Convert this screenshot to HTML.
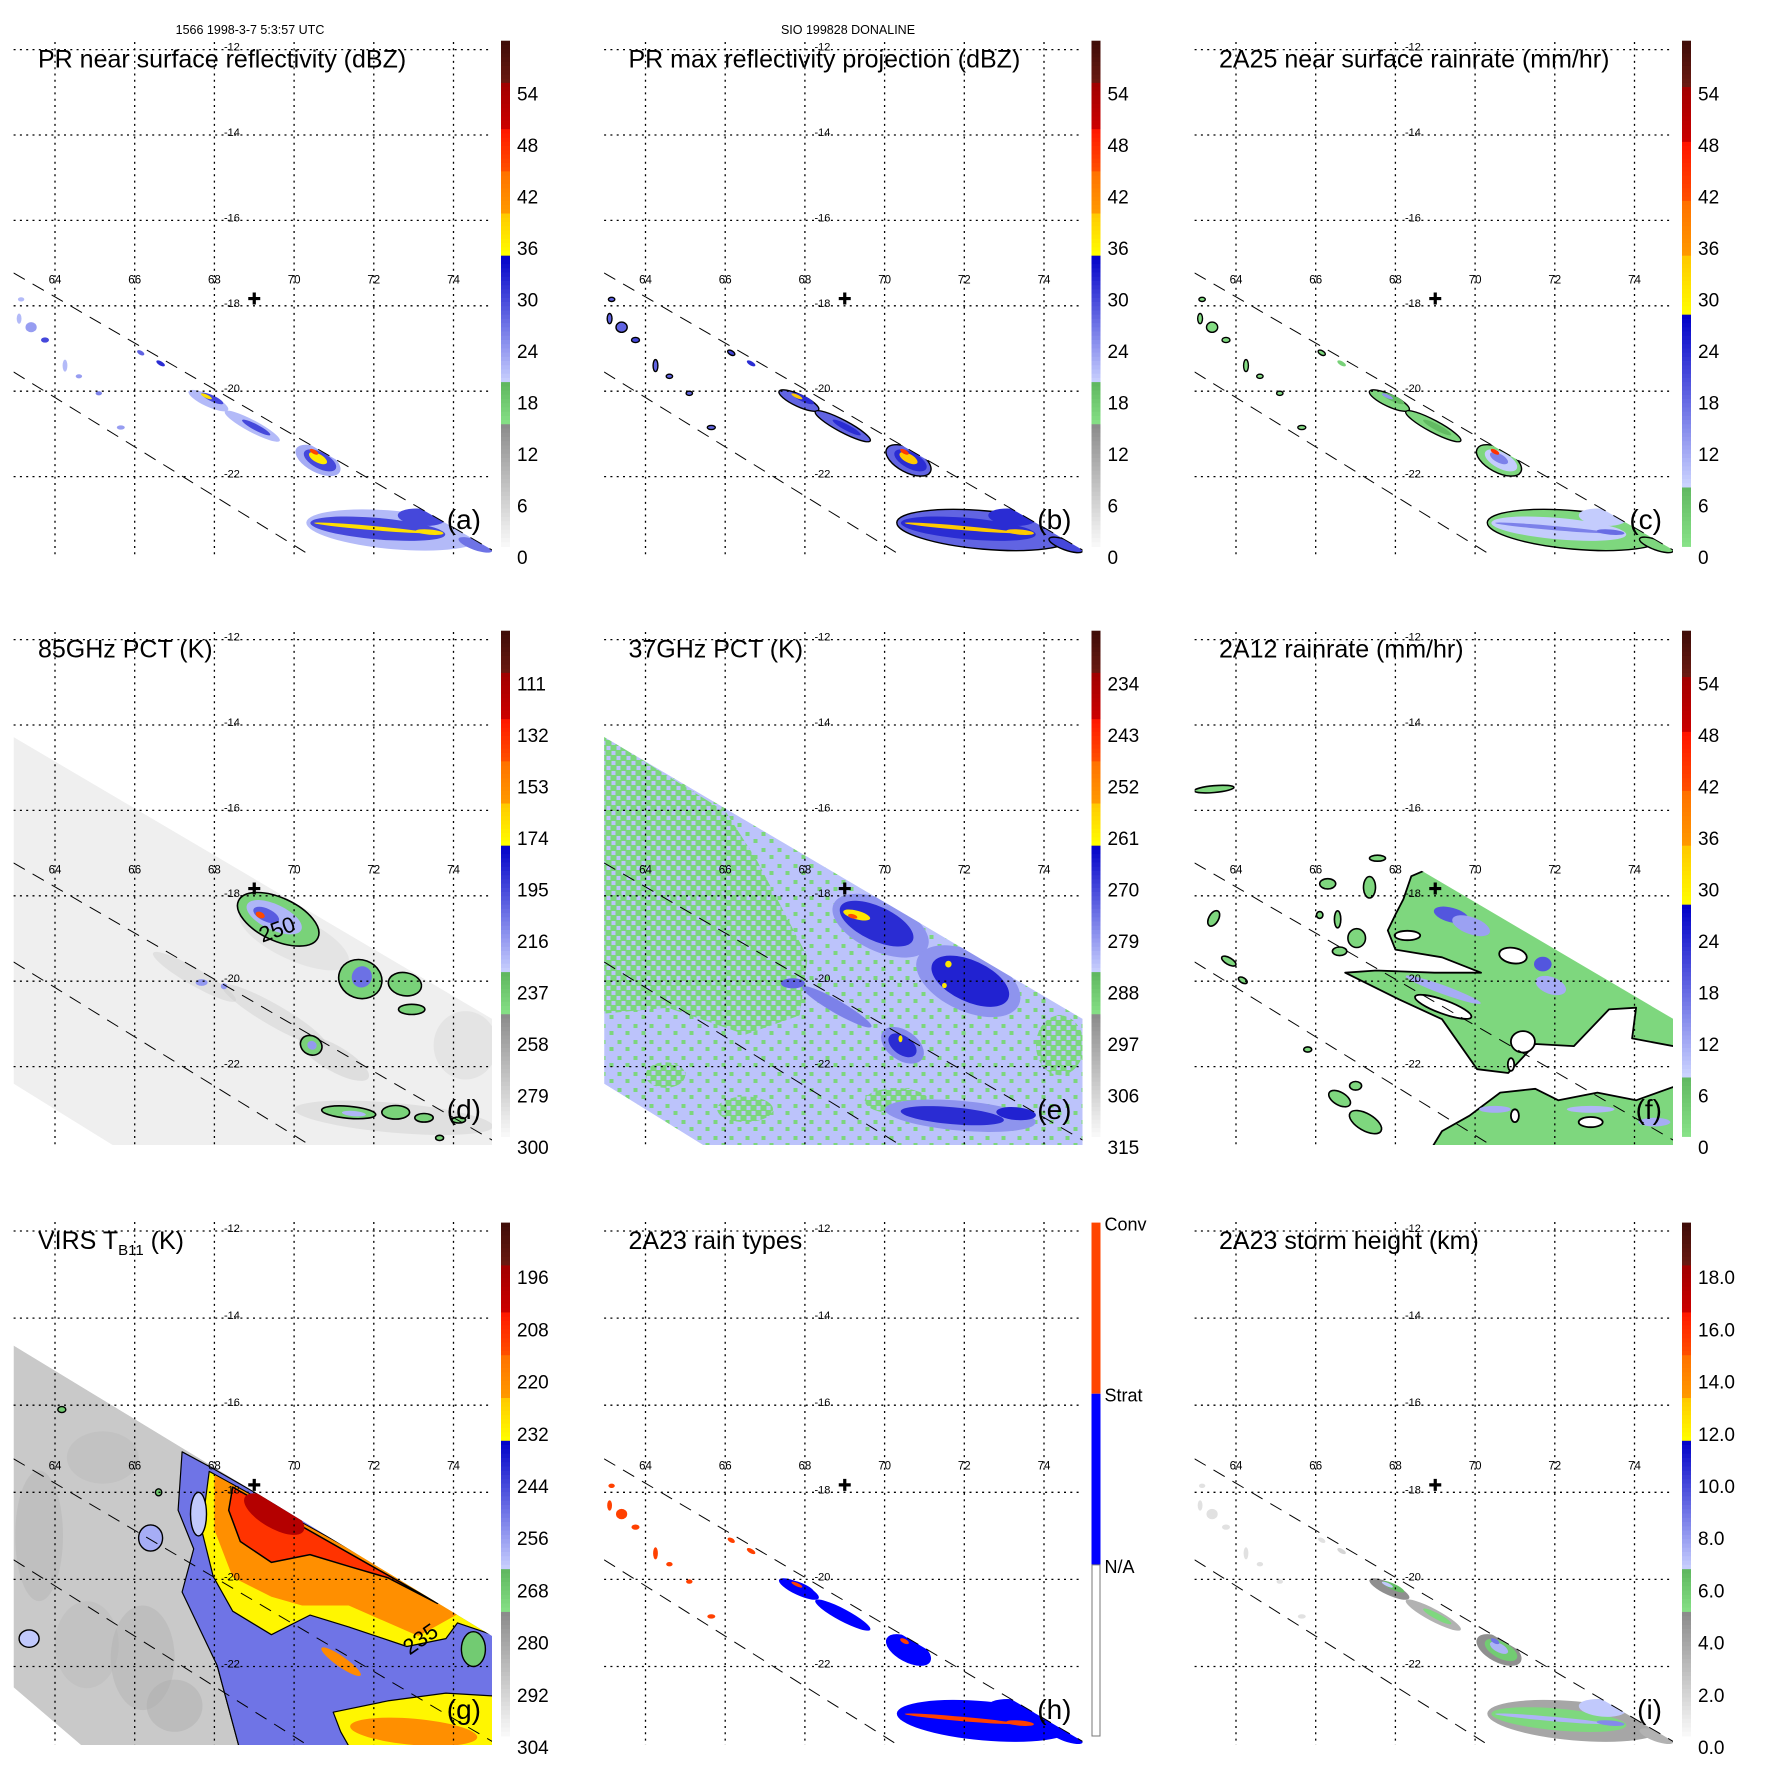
<!DOCTYPE html>
<html><head><meta charset="utf-8">
<style>html,body{margin:0;padding:0;background:#fff}svg{display:block}text{font-family:"Liberation Sans",Arial,sans-serif}</style>
</head><body>
<svg id="fig" xmlns="http://www.w3.org/2000/svg" width="1771" height="1771" viewBox="0 0 1771 1771">
<rect width="1771" height="1771" fill="#fff"/>
<text x="250" y="34" font-size="12.5" text-anchor="middle">1566 1998-3-7 5:3:57 UTC</text>
<text x="848" y="34" font-size="12.5" text-anchor="middle">SIO 199828 DONALINE</text>
</svg>
<script>
// ---------- data arrays (lon, lat, half-width lon, half-width lat, tilt) ----------
const lonTicks=[64,66,68,70,72,74];
const latTicks=[-12,-14,-16,-18,-20,-22];
const centerLon=69.0, centerLat=-17.83;
const prSwath=[[62.96,-17.23],[74.97,-23.72],[75.6,-24.3],[62.96,-24.3]];
const prLower=[[62.96,-19.55],[70.4,-23.84]];
const tmiSwath=[[62.96,-14.28],[75.0,-20.9],[75.6,-20.9],[75.6,-24.4],[65.45,-24.4],[65.45,-23.84],[62.96,-22.4]];
const virsSwath=[[62.96,-14.63],[75.0,-21.32],[75.6,-21.32],[75.6,-24.6],[65.67,-24.6],[62.96,-22.48]];

const prCells=[[67.85,-20.22,0.55,0.14,25],[67.95,-20.17,0.3,0.07,25],[67.8,-20.12,0.15,0.04,25],
[68.95,-20.82,0.78,0.14,28],[69.05,-20.85,0.4,0.07,28],
[70.6,-21.62,0.62,0.28,28],[70.65,-21.62,0.45,0.19,28],[70.6,-21.57,0.25,0.1,28],[70.5,-21.42,0.12,0.05,28],
[72.5,-23.25,2.2,0.45,5],[72.1,-23.22,1.7,0.25,5],[71.9,-23.2,1.4,0.05,5],[73.2,-22.95,0.6,0.2,5],[73.4,-23.3,0.35,0.06,5],[74.55,-23.6,0.45,0.12,20],
[63.15,-17.85,0.08,0.05,0],[63.4,-18.5,0.14,0.12,0],[63.75,-18.8,0.1,0.06,0],[64.25,-19.4,0.06,0.14,0],[64.6,-19.65,0.08,0.05,0],
[65.1,-20.05,0.08,0.05,0],[65.65,-20.85,0.1,0.05,0],[66.15,-19.1,0.1,0.05,30],[66.65,-19.35,0.12,0.05,30],[63.1,-18.3,0.06,0.12,0]];
const aVals=[22,30,38,22,30,23,30,37,46,22,30,38,30,38,27,22,24,30,22,24,26,24,28,32,22];
const bVals=[28,32,40,28,32,28,32,40,47,28,32,40,32,40,30,28,28,30,28,28,28,28,30,32,28];
const cVals=[3,8,14,3,8,3,9,16,45,3,9,16,9,18,3,2,2,3,2,2,2,2,3,4,2];
const hVals=[1,1,2,1,1,1,1,1,2,1,1,2,1,2,1,2,2,2,2,2,2,2,2,2,2];
const iVals=[5,6.5,7,3.5,5.5,5,6,7.5,9,4,5.5,7.5,7,8.5,3.5,1.5,1.5,1.5,1.5,1.5,1.5,1.5,1.5,2,1.5];

const dBase=291;
const dBg=[[67.5,-19.9,1.2,0.2,30,272],[69.5,-20.8,1.5,0.25,30,273],[71.0,-21.8,1.0,0.3,30,270],[72.5,-23.2,2.5,0.35,5,272],[70.0,-19.0,1.5,0.5,25,278],[74.3,-21.5,0.8,0.8,0,278]];
const dCells=[[69.6,-18.55,1.1,0.5,25,240],[69.5,-18.5,0.75,0.3,25,222],[69.3,-18.45,0.35,0.15,25,200],[69.15,-18.45,0.12,0.07,25,140],
[71.66,-19.95,0.55,0.45,20,240],[71.7,-19.9,0.25,0.25,20,205],[72.78,-20.07,0.42,0.27,10,240],[72.95,-20.66,0.33,0.12,0,240],
[70.43,-21.5,0.28,0.22,30,240],[70.45,-21.5,0.12,0.1,30,215],[71.37,-23.07,0.68,0.14,5,240],[71.5,-23.1,0.3,0.06,5,222],
[72.55,-23.07,0.35,0.16,0,240],[73.26,-23.2,0.23,0.1,0,240],[74.13,-23.25,0.17,0.07,0,240],[73.65,-23.67,0.1,0.06,0,240],
[67.68,-20.03,0.15,0.08,0,215],[68.24,-20.12,0.08,0.07,0,215]];

const eBase=283;
const eGreenPoly=[[62.5,-14.0],[66.02,-16.04],[66.8,-17.18],[68.07,-19.44],[67.87,-20.8],[66.51,-21.25],[64.56,-20.62],[62.5,-20.8]];
const eCells=[[74.4,-21.5,0.6,0.7,0,290],[70.3,-22.8,0.8,0.3,0,290],[66.5,-23.0,0.7,0.3,0,290],[64.5,-22.2,0.5,0.3,0,290],
[69.9,-18.7,1.3,0.6,25,278],[69.8,-18.65,1.0,0.4,25,267],[69.3,-18.45,0.35,0.1,15,259],[69.2,-18.48,0.12,0.05,15,247],
[72.1,-20.0,1.4,0.7,25,278],[72.15,-20.0,1.05,0.48,25,266],[71.6,-19.6,0.08,0.08,0,259],[71.5,-20.1,0.06,0.06,0,259],
[70.45,-21.5,0.6,0.35,35,277],[70.45,-21.5,0.4,0.22,35,267],[70.4,-21.35,0.05,0.08,0,259],
[71.9,-23.15,1.9,0.35,5,278],[71.7,-23.15,1.3,0.2,5,267],[73.3,-23.1,0.5,0.15,5,266],[67.7,-20.05,0.3,0.12,0,273],[68.8,-20.6,1.0,0.15,30,276]];

const fMain=[[68.4,-17.54],[69.0,-17.3],[76,-20.3],[76,-21.7],[73.94,-21.34],[74.04,-20.62],[73.36,-20.66],[72.48,-21.52],[71.51,-21.47],[70.83,-22.15],[70.05,-22.06],[69.17,-20.89],[68.1,-20.43],[66.74,-19.8],[67.52,-19.75],[68.98,-19.8],[70.15,-19.8],[69.17,-19.44],[68.0,-19.26],[67.81,-18.81],[68.0,-18.44],[68.2,-18.08]];
const fBottom=[[69.86,-23.15],[70.63,-22.61],[71.51,-22.52],[72.09,-22.79],[73.07,-22.61],[74.04,-22.79],[75.5,-22.3],[75.5,-24.4],[68.59,-24.4],[69.17,-23.51]];
const fHoles=[[68.3,-18.93,0.32,0.11,0],[70.95,-19.4,0.35,0.18,10],[69.2,-20.6,0.75,0.16,20],[71.2,-21.42,0.3,0.25,0],[70.9,-21.95,0.08,0.15,0],[72.9,-23.3,0.3,0.12,0],[71.0,-23.15,0.1,0.15,0]];
const fSmall=[[63.45,-15.5,0.5,0.08,-5],[63.44,-18.53,0.12,0.2,30],[63.82,-19.53,0.2,0.08,30],[64.17,-19.98,0.12,0.06,30],[66.3,-17.72,0.2,0.12,0],[66.55,-18.55,0.08,0.2,0],[67.03,-18.99,0.22,0.22,0],[67.35,-17.8,0.15,0.25,0],[67.55,-17.12,0.2,0.07,0],[66.6,-19.3,0.18,0.1,0],[65.8,-21.6,0.1,0.06,0],[66.6,-22.75,0.3,0.15,30],[67.25,-23.3,0.45,0.2,30],[67.0,-22.45,0.15,0.1,0],[66.1,-18.45,0.08,0.08,0]];
const fBlue=[[69.4,-18.45,0.45,0.17,15,20],[69.9,-18.7,0.5,0.2,20,13],[71.7,-19.6,0.22,0.17,0,20],[71.9,-20.1,0.4,0.2,20,12],[69.2,-20.2,1.0,0.1,20,12],[70.5,-23.0,0.4,0.08,0,12],[72.9,-23.0,0.6,0.08,0,11],[74.5,-23.3,0.4,0.1,0,12]];

const gBase=289;
const gBg=[[63.6,-19.0,0.6,1.5,0,283],[64.8,-21.5,0.8,1.0,0,285],[66.2,-21.8,0.8,1.2,0,282],[65.2,-17.2,0.9,0.6,0,285],[67.0,-22.9,0.7,0.6,0,281]];
const gGreen=[[68.07,-21.98],[69.43,-22.07],[70.4,-23.32],[70.4,-24.6],[68.84,-24.6]];
const gBlue=[[67.19,-17.07],[67.92,-17.43],[75.0,-21.13],[75.6,-21.13],[75.6,-24.6],[68.84,-24.6],[68.07,-21.98],[67.19,-20.29],[67.48,-19.30],[67.09,-18.41]];
const gYellow=[[67.87,-17.52],[75.0,-21.13],[74.97,-21.27],[74.1,-21.0],[73.81,-21.36],[72.83,-21.54],[71.37,-21.09],[70.4,-20.82],[69.43,-21.27],[68.46,-20.73],[67.97,-19.93],[67.68,-18.86]];
const gOrange=[[68.0,-17.6],[75.0,-21.13],[74.1,-20.8],[73.12,-21.3],[71.37,-20.6],[70.2,-20.6],[69.43,-20.4],[68.46,-19.95],[68.0,-18.86]];
const gRed=[[68.46,-17.88],[73.6,-20.55],[72.35,-19.96],[71.37,-19.70],[70.4,-19.43],[69.43,-19.61],[68.65,-19.13],[68.36,-18.41]];
const gLowBand=[[70.98,-23.05],[72.35,-22.79],[73.81,-22.61],[75.6,-22.71],[75.6,-24.6],[71.85,-24.6],[71.17,-23.5]];
const gCells=[[69.5,-18.5,0.85,0.32,30,198],[71.18,-21.89,0.6,0.12,35,220],[73.0,-23.5,1.6,0.3,5,221],[74.5,-21.6,0.3,0.4,0,268],
[63.35,-21.36,0.25,0.2,0,262],[64.17,-16.1,0.1,0.07,0,268],[66.4,-19.05,0.3,0.3,0,258],[66.6,-18.0,0.08,0.08,0,268],[67.6,-18.5,0.2,0.5,0,262]];

const aTicks=[0,6,12,18,24,30,36,42,48,54];
const dTicks=[300,279,258,237,216,195,174,153,132,111];
const eTicks=[315,306,297,288,279,270,261,252,243,234];
const gTicks=[304,292,280,268,256,244,232,220,208,196];
const iTicks=[0,2,4,6,8,10,12,14,16,18];

// ---------- colour bars (fractions of bar height from top) ----------
const barA=[[0,.0836,'#3e0c08','#6a1a12'],[.0836,.1726,'#a00000','#cc0000'],[.1726,.2566,'#ff1400','#ff5000'],[.2566,.3407,'#ff7000','#ff9a00'],[.3407,.4257,'#ffc800','#ffff00'],[.4257,.6788,'#0000c8','#ccd4ff'],[.6788,.7618,'#60b860','#88e288'],[.7618,1,'#8c8c8c','#fafafa']];
const barC=[[0,.0875,'#3e0c08','#6a1a12'],[.0875,.2022,'#a00000','#cc0000'],[.2022,.3178,'#ff1400','#ff5000'],[.3178,.4257,'#ff7000','#ff9a00'],[.4257,.5443,'#ffc800','#ffff00'],[.5443,.8804,'#0000c8','#ccd4ff'],[.8804,1,'#60b860','#88e288']];

const NS='http://www.w3.org/2000/svg';
const fig=document.getElementById('fig');
function mk(tag,attrs,parent){const e=document.createElementNS(NS,tag);for(const k in attrs)e.setAttribute(k,attrs[k]);parent.appendChild(e);return e;}
function hex(c){return [parseInt(c.substr(1,2),16),parseInt(c.substr(3,2),16),parseInt(c.substr(5,2),16)];}
function lerp(a,b,t){const A=hex(a),B=hex(b);return 'rgb('+A.map((v,i)=>Math.round(v+(B[i]-v)*t)).join(',')+')';}
function barColor(bar,t){t=Math.max(0,Math.min(1,t));for(const b of bar){if(t>=b[0]&&t<=b[1])return lerp(b[2],b[3],(t-b[0])/(b[1]-b[0]));}return bar[bar.length-1][3];}

const ROWP=[{Y0:49.6,ky:42.7,bt:40.7,bb:546.5,l0:557,ls:51.5,fb:555,oy:0},{Y0:49.6,ky:42.7,bt:40.7,bb:546.5,l0:557,ls:51.5,fb:555,oy:590},{Y0:51,ky:43.55,bt:42.6,bb:556,l0:567,ls:52.2,fb:565,oy:1180}];
const COLX=[0,590.5,1181];

function makePanel(P){
  const rp=ROWP[P.row];
  const X=lon=>55+(lon-64)*39.85;
  const Y=lat=>rp.Y0+(-12-lat)*rp.ky;
  const g=mk('g',{transform:`translate(${COLX[P.col]},${rp.oy})`},fig);
  
  
  const colorOf=v=>{const y=rp.l0-(v-P.v0)/P.dv*rp.ls;return barColor(P.bar,(y-rp.bt)/(rp.bb-rp.bt));};
  const pts=arr=>arr.map(p=>X(p[0]).toFixed(1)+','+Y(p[1]).toFixed(1)).join(' ');
  const defs=mk('defs',{},g);
  const cf=mk('clipPath',{id:'cf'+P.key},defs);
  mk('rect',{x:13.6,y:43,width:478.4,height:rp.fb-43},cf);
  const cs=mk('clipPath',{id:'cs'+P.key},defs);
  mk('polygon',{points:pts(P.swath)},cs);
  const outer=mk('g',{'clip-path':`url(#cf${P.key})`},g);
  const data=mk('g',{'clip-path':`url(#cs${P.key})`},outer);
  
  
  const ell=(c,fill,stroke,sw)=>{const cx=X(c[0]),cy=Y(c[1]);const e=mk('ellipse',{cx:cx.toFixed(1),cy:cy.toFixed(1),rx:(c[2]*39.85).toFixed(1),ry:(c[3]*rp.ky).toFixed(1),transform:`rotate(${c[4]} ${cx.toFixed(1)} ${cy.toFixed(1)})`,fill:fill,stroke:stroke||'none','stroke-width':sw||1.6},data);return e;};
  const poly=(arr,fill,stroke,sw)=>{const e=mk('polygon',{points:pts(arr),fill:fill,stroke:stroke||'none','stroke-width':sw||1.6,'stroke-linejoin':'round'},data);return e;};
  const pattern=(id,base,spot,size,spots)=>{const p=mk('pattern',{id:id+P.key,width:size,height:size,patternUnits:'userSpaceOnUse'},defs);mk('rect',{width:size,height:size,fill:base},p);spots.forEach(s=>mk('rect',{x:s[0],y:s[1],width:4,height:4,fill:spot},p));return `url(#${id}${P.key})`;};
  P.draw({ell,poly,colorOf,data,X,Y,pts,pattern});
  const dl=mk('g',{stroke:'#000','stroke-width':1,'stroke-dasharray':'13,9',fill:'none'},outer);
  
  
  mk('line',{x1:X(prSwath[0][0]),y1:Y(prSwath[0][1]),x2:X(prSwath[1][0]),y2:Y(prSwath[1][1])},dl);
  mk('line',{x1:X(prLower[0][0]),y1:Y(prLower[0][1]),x2:X(prLower[1][0]),y2:Y(prLower[1][1])},dl);
  const gr=mk('g',{stroke:'#000','stroke-width':1.3,'stroke-dasharray':'2,4.3'},g);
  
  
  latTicks.forEach(l=>mk('line',{x1:13.6,x2:492,y1:Y(l),y2:Y(l)},gr));
  lonTicks.forEach(l=>mk('line',{x1:X(l),x2:X(l),y1:42,y2:rp.fb},gr));
  latTicks.forEach(l=>{const t=mk('text',{x:224,y:Y(l)+1,'font-size':11},g);t.textContent=String(l);});
  lonTicks.forEach(l=>{const t=mk('text',{x:X(l),y:Y(-17.2)+12,'font-size':11.5,'text-anchor':'middle'},g);t.textContent=String(l);});
  const cx=X(centerLon),cy=Y(centerLat);
  const cr=mk('path',{d:`M${cx-6},${cy}H${cx+6}M${cx},${cy-6}V${cy+6}`,stroke:'#000','stroke-width':3.2},g);
  
  
  if(P.extra)P.extra(g,X,Y);
  const tt=mk('text',{x:38,y:rp.Y0+18,'font-size':25},g);
  
  
  if(P.sub){tt.appendChild(document.createTextNode('VIRS T'));const s=mk('tspan',{'font-size':15,dy:6},tt);s.textContent='B11';const s2=mk('tspan',{dy:-6},tt);s2.textContent=' (K)';}
  else tt.textContent=P.title;
  const lt=mk('text',{x:481,y:rp.fb-26,'font-size':28,'text-anchor':'end'},g);
  lt.textContent='('+P.key+')';
  
  
  const cb=mk('g',{},g);
  
  
  if(P.key==='h'){
    const h3=(rp.bb-rp.bt)/3;
    mk('rect',{x:501,y:rp.bt,width:9,height:h3,fill:'#ff4500'},cb);
    mk('rect',{x:501,y:rp.bt+h3,width:9,height:h3,fill:'#0000ff'},cb);
    mk('rect',{x:501.5,y:rp.bt+2*h3,width:8,height:h3,fill:'#fff',stroke:'#777','stroke-width':1},cb);
    [['Conv',0],['Strat',1],['N/A',2]].forEach(p=>{const t=mk('text',{x:514,y:rp.bt+p[1]*h3+8,'font-size':18},cb);t.textContent=p[0];});
  } else {
    const n=120,h=(rp.bb-rp.bt)/n;
    for(let i=0;i<n;i++){const t=(i+0.5)/n;mk('rect',{x:501,y:(rp.bt+i*h).toFixed(2),width:9,height:(h+0.4).toFixed(2),fill:barColor(P.bar,t)},cb);}
    P.ticks.forEach(v=>{const y=rp.l0-(v-P.v0)/P.dv*rp.ls;const t=mk('text',{x:517,y:y+7,'font-size':19},cb);t.textContent=P.fmt?v.toFixed(1):String(v);});
  }
}

function prDraw(vals,colorFn,strokeRule){return o=>{prCells.forEach((c,i)=>{const v=vals[i];o.ell(c,colorFn(v,o),strokeRule&&strokeRule(v)?'#000':'none',1.4);});};}

const panels=[
 {key:'a',col:0,row:0,title:'PR near surface reflectivity (dBZ)',bar:barA,v0:0,dv:6,ticks:aTicks,swath:prSwath,draw:prDraw(aVals,(v,o)=>o.colorOf(v))},
 {key:'b',col:1,row:0,title:'PR max reflectivity projection (dBZ)',bar:barA,v0:0,dv:6,ticks:aTicks,swath:prSwath,draw:prDraw(bVals,(v,o)=>o.colorOf(v),v=>v<=30)},
 {key:'c',col:2,row:0,title:'2A25 near surface rainrate (mm/hr)',bar:barC,v0:0,dv:6,ticks:aTicks,swath:prSwath,draw:prDraw(cVals,(v,o)=>o.colorOf(v),v=>v<=3)},
 {key:'d',col:0,row:1,title:'85GHz PCT (K)',bar:barA,v0:300,dv:-21,ticks:dTicks,swath:tmiSwath,draw:o=>{
   o.poly(tmiSwath,o.colorOf(dBase));
   dBg.forEach(c=>o.ell(c,o.colorOf(c[5])).setAttribute('opacity','0.35'));
   dCells.forEach(c=>o.ell(c,o.colorOf(c[5]),c[5]>=235?'#000':'none',1.6));},
  extra:(g,X,Y)=>{const t=mk('text',{x:X(69.2),y:Y(-19.1),'font-size':22,transform:`rotate(-20 ${X(69.2)} ${Y(-19.1)})`},g);t.textContent='250';}},
 {key:'e',col:1,row:1,title:'37GHz PCT (K)',bar:barA,v0:315,dv:-9,ticks:eTicks,swath:tmiSwath,draw:o=>{
   const bg=o.pattern('pb',o.colorOf(eBase),o.colorOf(290),16,[[3,9],[11,2]]);
   const gp=o.pattern('pg',o.colorOf(290),o.colorOf(eBase),10,[[1,1],[6,6]]);
   o.poly(tmiSwath,bg);
   o.poly(eGreenPoly,gp);
   eCells.forEach(c=>o.ell(c,c[5]>=289?gp:o.colorOf(c[5])));}},
 {key:'f',col:2,row:1,title:'2A12 rainrate (mm/hr)',bar:barC,v0:0,dv:6,ticks:aTicks,swath:tmiSwath,draw:o=>{
   const gcol=o.colorOf(3);
   o.poly(fMain,gcol,'#000',1.8);
   o.poly(fBottom,gcol,'#000',1.8);
   fSmall.forEach(c=>o.ell(c,gcol,'#000',1.6));
   fBlue.forEach(c=>o.ell(c,o.colorOf(c[5])));
   fHoles.forEach(c=>o.ell(c,'#fff','#000',1.8));}},
 {key:'g',col:0,row:2,sub:true,bar:barA,v0:304,dv:-12,ticks:gTicks,swath:virsSwath,draw:o=>{
   o.poly(virsSwath,o.colorOf(gBase));
   gBg.forEach(c=>o.ell(c,o.colorOf(c[5])).setAttribute('opacity','0.4'));
   o.poly(gGreen,o.colorOf(268),'#000',1.2);
   o.poly(gBlue,o.colorOf(250),'#000',1.2);
   o.poly(gYellow,o.colorOf(232),'#000',1.2);
   o.poly(gOrange,o.colorOf(221));
   o.poly(gRed,o.colorOf(209),'#000',1.5);
   o.poly(gLowBand,o.colorOf(232),'#000',1.2);
   gCells.forEach(c=>o.ell(c,o.colorOf(c[5]),c[5]>=255?'#000':'none',1.4));},
  extra:(g,X,Y)=>{const t=mk('text',{x:X(72.9),y:Y(-21.75),'font-size':22,transform:`rotate(-35 ${X(72.9)} ${Y(-21.75)})`},g);t.textContent='235';}},
 {key:'h',col:1,row:2,title:'2A23 rain types',bar:barA,v0:0,dv:6,ticks:[],swath:prSwath,draw:prDraw(hVals,v=>v===2?'#ff4000':'#0000ff')},
 {key:'i',col:2,row:2,title:'2A23 storm height (km)',bar:barA,v0:0,dv:2,ticks:iTicks,fmt:true,swath:prSwath,draw:prDraw(iVals,(v,o)=>o.colorOf(v))}
];
panels.forEach(makePanel);
</script>
</body></html>
